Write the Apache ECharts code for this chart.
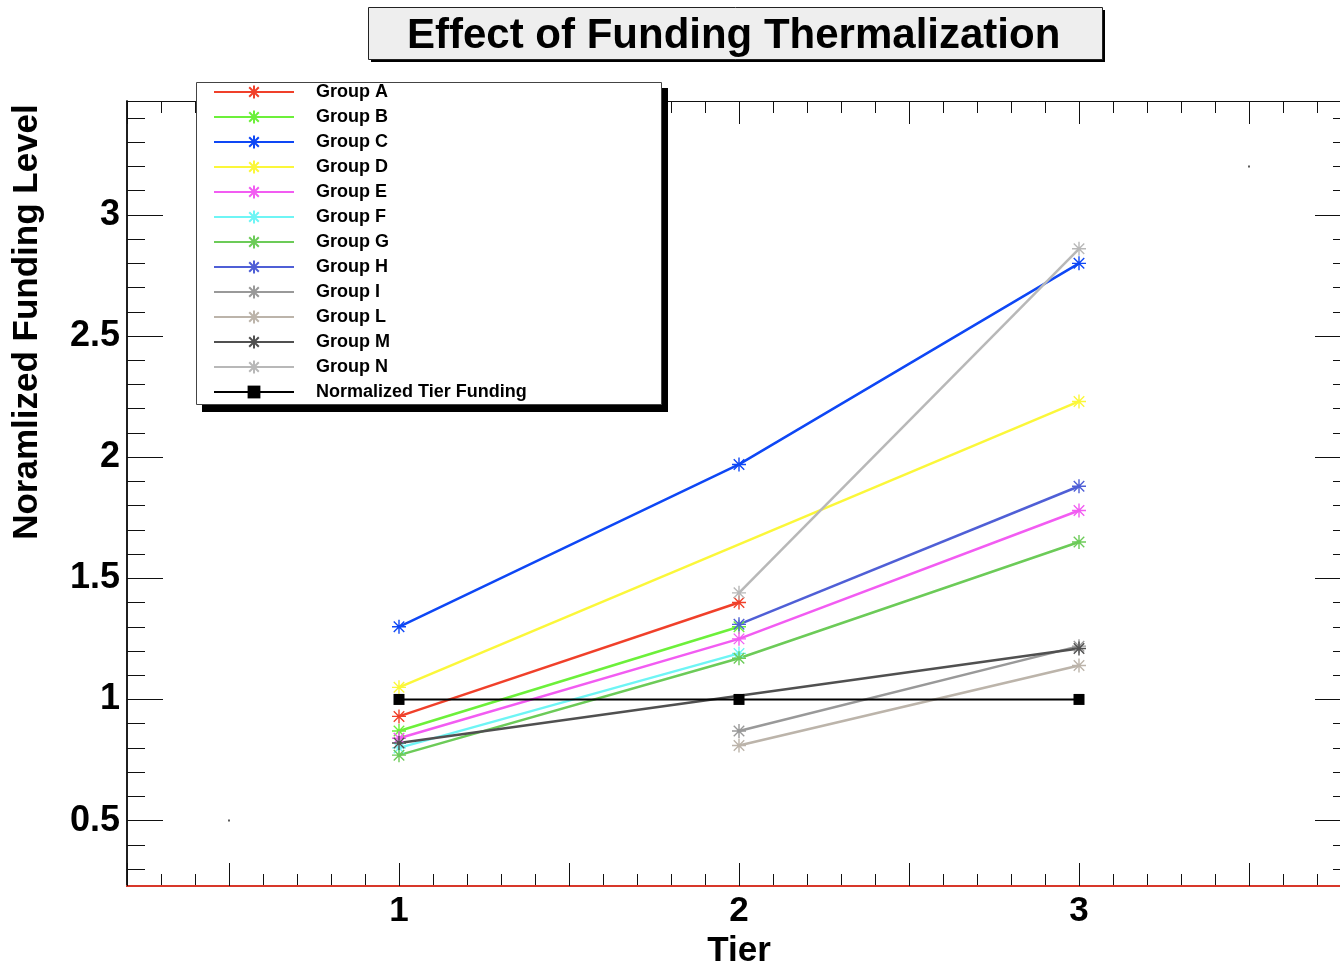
<!DOCTYPE html>
<html>
<head>
<meta charset="utf-8">
<script src="https://cdn.jsdelivr.net/npm/echarts@6/dist/echarts.min.js"></script>
<style>
  html, body { margin: 0; padding: 0; background: #ffffff; }
  #chart { width: 1340px; height: 967px; }
</style>
</head>
<body>
<div id="chart"></div>
<script>
// ---------------- data ----------------
const tiers = [1, 2, 3];
const groupNames = ['Group A', 'Group B', 'Group C', 'Group D', 'Group E', 'Group F',
                    'Group G', 'Group H', 'Group I', 'Group L', 'Group M', 'Group N'];
const groupA = [0.93, 1.40, null];
const groupB = [0.87, 1.30, null];
const groupC = [1.30, 1.97, 2.80];
const groupD = [1.05, null, 2.23];
const groupE = [0.84, 1.25, 1.78];
const groupF = [0.80, 1.19, null];
const groupG = [0.77, 1.17, 1.65];
const groupH = [null, 1.31, 1.88];
const groupI = [null, 0.87, 1.22];
const groupL = [null, 0.81, 1.14];
const groupM = [0.82, null, 1.21];
const groupN = [null, 1.44, 2.86];
const normalizedName = 'Normalized Tier Funding';
const normalizedTier = [1.00, 1.00, 1.00];
// two tiny frame-anchor dots visible in the original
const anchorX = [0.5, 3.5];
const anchorY = [0.50, 3.20];
const xLabelValues = [1, 2, 3];

// ---------------- styles ----------------
const groupValues = [groupA, groupB, groupC, groupD, groupE, groupF, groupG, groupH, groupI, groupL, groupM, groupN];
const groupColors = ['#f0402a', '#6cf03a', '#0e47f5', '#fbf73a', '#f25cf2', '#6ef5f5',
                     '#6ccb58', '#4f5fd6', '#999999', '#bcb4aa', '#505050', '#b8b8b8'];
const FONT = '"Liberation Sans", Arial, Helvetica, sans-serif';
const STAR = 'path://M0,-10L0,10M-10,0L10,0M-7.5,-7.5L7.5,7.5M7.5,-7.5L-7.5,7.5';

function pairs(vals) {
  return tiers.map((t, i) => [t, vals[i]]).filter(p => p[1] !== null);
}

const series = groupNames.map((name, i) => ({
  name: name,
  type: 'line',
  data: pairs(groupValues[i]),
  xAxisIndex: 0,
  yAxisIndex: 0,
  symbol: STAR,
  symbolSize: 14,
  showAllSymbol: true,
  lineStyle: { width: 2.5, color: groupColors[i] },
  itemStyle: { color: groupColors[i], borderColor: groupColors[i], borderWidth: 1.4 },
  emphasis: { disabled: true },
  z: 2
}));
series.push({
  name: normalizedName,
  type: 'line',
  data: pairs(normalizedTier),
  xAxisIndex: 0,
  yAxisIndex: 0,
  symbol: 'rect',
  symbolSize: 11,
  lineStyle: { width: 2, color: '#000' },
  itemStyle: { color: '#000' },
  emphasis: { disabled: true },
  z: 3
});
series.push({
  name: 'anchors',
  type: 'scatter',
  data: anchorX.map((x, i) => [x, anchorY[i]]),
  xAxisIndex: 0,
  yAxisIndex: 0,
  symbol: 'rect',
  symbolSize: 2,
  itemStyle: { color: '#333' },
  emphasis: { disabled: true },
  silent: true
});

const XMIN = 0.2, XMAX = 3.8, YMIN = 0.23, YMAX = 3.47;

function isHalf(v) { return Math.abs(v * 2 - Math.round(v * 2)) < 1e-6; }

function xAxisDef(pos, major, withLabels) {
  const step = major ? 0.5 : 0.1;
  return {
    type: 'value', position: pos, min: XMIN, max: XMAX,
    minInterval: step, maxInterval: step,
    z: withLabels ? 1 : 0,
    axisLine: { show: true, onZero: false,
      lineStyle: pos === 'bottom' ? { color: '#d8382a', width: 2 } : { color: '#111', width: 1 } },
    axisTick: { show: true, inside: true, length: major ? 23 : 12, lineStyle: { color: '#111', width: 1 } },
    axisLabel: withLabels ? {
      show: true, margin: 8, fontSize: 35, fontWeight: 'bold', fontFamily: FONT, color: '#000',
      formatter: v => (xLabelValues.some(t => Math.abs(t - v) < 1e-6) ? String(Math.round(v)) : '')
    } : { show: false },
    splitLine: { show: false },
    name: withLabels ? 'Tier' : '',
    nameLocation: 'middle', nameGap: 46,
    nameTextStyle: { fontSize: 35, fontWeight: 'bold', fontFamily: FONT, color: '#000' }
  };
}
function yAxisDef(pos, major, withLabels) {
  const step = major ? 0.5 : 0.1;
  return {
    type: 'value', position: pos, min: YMIN, max: YMAX,
    minInterval: step, maxInterval: step,
    axisLine: { show: true, onZero: false, lineStyle: { color: '#111', width: 1.5 } },
    axisTick: { show: true, inside: true, length: major ? 36 : 18, lineStyle: { color: '#111', width: 1 } },
    axisLabel: withLabels ? {
      show: true, margin: 7, fontSize: 36, fontWeight: 'bold', fontFamily: FONT, color: '#000',
      formatter: v => (isHalf(v) && v > YMIN && v < YMAX ? String(+v.toFixed(1)) : '')
    } : { show: false },
    splitLine: { show: false }
  };
}

const option = {
  animation: false,
  backgroundColor: '#ffffff',
  title: {
    text: 'Effect of Funding Thermalization',
    left: 407, top: 15, padding: 0, z: 8,
    textStyle: { fontSize: 42, fontWeight: 'bold', fontFamily: FONT, color: '#000' }
  },
  legend: {
    orient: 'vertical', left: 213, top: 83, padding: 0,
    itemWidth: 80, itemHeight: 16, itemGap: 7,
    selectedMode: false, z: 8,
    data: groupNames.concat([normalizedName]),
    textStyle: { fontSize: 18, fontWeight: 'bold', fontFamily: FONT, color: '#000',
                 lineHeight: 18, padding: [0, 0, 0, 17] }
  },
  grid: { left: 127, top: 101, width: 1224, height: 785, containLabel: false,
          outerBoundsMode: 'none', show: false },
  xAxis: [
    xAxisDef('bottom', true, true),
    xAxisDef('bottom', false, false),
    xAxisDef('top', true, false),
    xAxisDef('top', false, false)
  ],
  yAxis: [
    yAxisDef('left', true, true),
    yAxisDef('left', false, false),
    yAxisDef('right', true, false),
    yAxisDef('right', false, false)
  ],
  graphic: [
    { type: 'rect', z: 5, silent: true, shape: { x: 371, y: 10, width: 734, height: 52 }, style: { fill: '#000' } },
    { type: 'rect', z: 6, silent: true, shape: { x: 368.5, y: 7.5, width: 734, height: 52 }, style: { fill: '#eeeeee', stroke: '#222', lineWidth: 1 } },
    { type: 'rect', z: 5, silent: true, shape: { x: 202, y: 88, width: 466, height: 324 }, style: { fill: '#000' } },
    { type: 'rect', z: 6, silent: true, shape: { x: 196.5, y: 82.5, width: 465, height: 322 }, style: { fill: '#ffffff', stroke: '#444', lineWidth: 1 } },
    { type: 'text', z: 6, silent: true, x: 27, y: 322, rotation: Math.PI / 2,
      style: { text: 'Noramlized Funding Level', fontSize: 35, fontWeight: 'bold', fontFamily: FONT,
               fill: '#000', align: 'center', verticalAlign: 'middle', textAlign: 'center', textVerticalAlign: 'middle' } }
  ],
  series: series
};

const chart = echarts.init(document.getElementById('chart'), null, { renderer: 'canvas' });
chart.setOption(option);
</script>
</body>
</html>
